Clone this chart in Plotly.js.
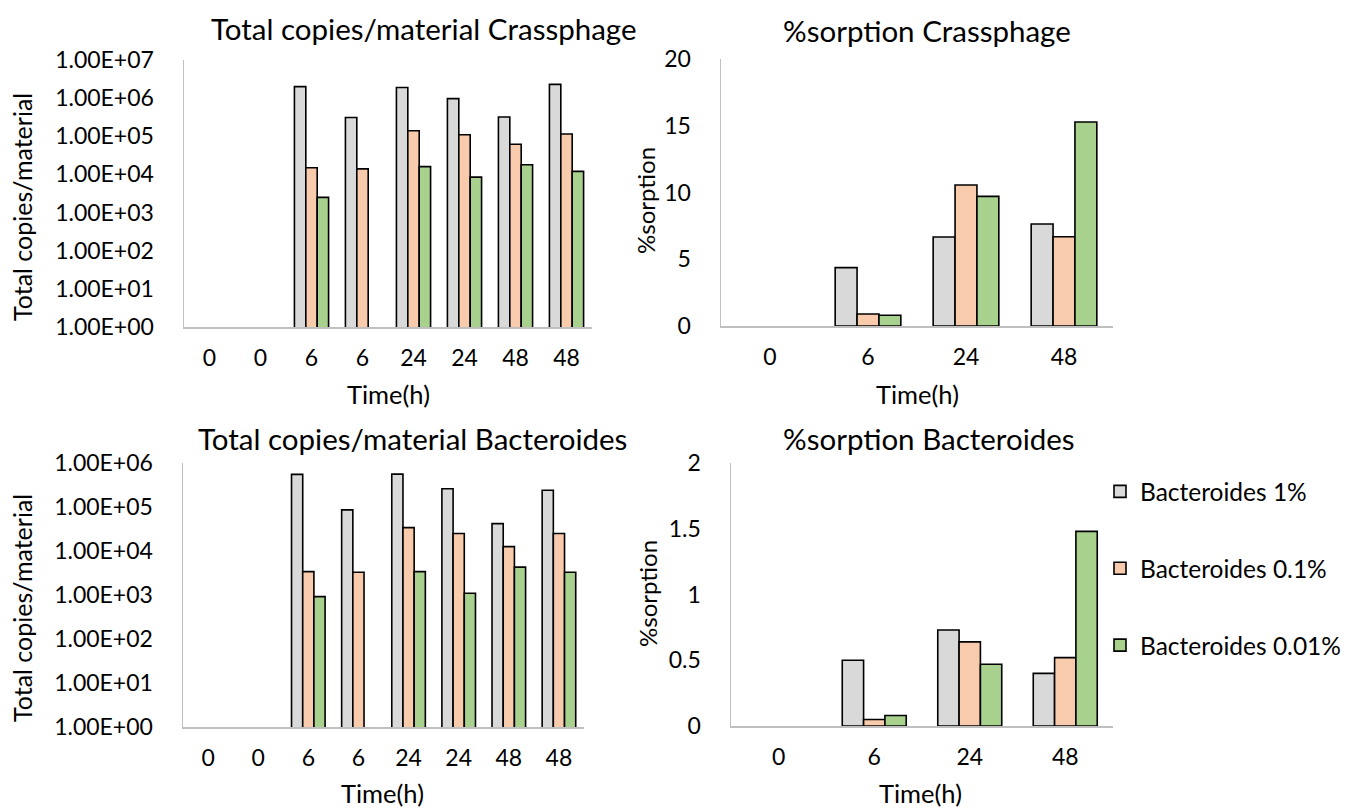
<!DOCTYPE html>
<html>
<head>
<meta charset="utf-8">
<script src="https://cdn.plot.ly/plotly-3.0.1.min.js"></script>
<style>
  html, body { margin: 0; padding: 0; background: #fff; }
  #chart { width: 1352px; height: 808px; }
</style>
</head>
<body>
<div id="chart"></div>
<script>
// Sampling times (h); the copy charts show each time point twice (replicates)
const copyTimes = ['0', '0', '6', '6', '24', '24', '48', '48'];
const sorptionTimes = ['0', '6', '24', '48'];
const seriesNames = ['Bacteroides 1%', 'Bacteroides 0.1%', 'Bacteroides 0.01%'];

// Total copies per material, crAssphage
const crassCopies1   = [null, null, 2.0e6, 3.1e5, 1.9e6, 9.7e5, 3.2e5, 2.3e6];
const crassCopies01  = [null, null, 1.5e4, 1.4e4, 1.4e5, 1.1e5, 6.2e4, 1.15e5];
const crassCopies001 = [null, null, 2.5e3, null, 1.6e4, 8.5e3, 1.8e4, 1.2e4];

// % sorption, crAssphage
const crassSorption1   = [null, 4.37, 6.67, 7.64];
const crassSorption01  = [null, 0.90, 10.56, 6.69];
const crassSorption001 = [null, 0.80, 9.71, 15.28];

// Total copies per material, Bacteroides
const bactCopies1   = [null, null, 5.5e5, 8.6e4, 5.6e5, 2.6e5, 4.2e4, 2.4e5];
const bactCopies01  = [null, null, 3.4e3, 3.3e3, 3.4e4, 2.5e4, 1.26e4, 2.5e4];
const bactCopies001 = [null, null, 9.2e2, null, 3.4e3, 1.1e3, 4.3e3, 3.3e3];

// % sorption, Bacteroides
const bactSorption1   = [null, 0.50, 0.73, 0.40];
const bactSorption01  = [null, 0.05, 0.64, 0.52];
const bactSorption001 = [null, 0.08, 0.47, 1.48];

// Log axis tick labels
const crassLogTicks = ['1.00E+00', '1.00E+01', '1.00E+02', '1.00E+03', '1.00E+04', '1.00E+05', '1.00E+06', '1.00E+07'];
const bactLogTicks  = ['1.00E+00', '1.00E+01', '1.00E+02', '1.00E+03', '1.00E+04', '1.00E+05', '1.00E+06'];

const fills = ['#D9D9D9', '#F8CBAD', '#A9D18E'];
const FONT = 'Lato, "Open Sans", sans-serif';
const TXT = '#000000';
const AXIS_GREY = '#BFBFBF';

const copyIdx = copyTimes.map((_, i) => i);

function barTraces(xs, seriesList, xa, ya, legend) {
  return seriesList.map((ys, k) => ({
    type: 'bar',
    x: xs,
    y: ys,
    name: seriesNames[k],
    xaxis: xa,
    yaxis: ya,
    legendgroup: 'g' + k,
    showlegend: legend,
    marker: { color: fills[k], line: { color: '#000000', width: 1.6 } },
    hoverinfo: 'x+y+name'
  }));
}

const data = [
  ...barTraces(copyIdx, [crassCopies1, crassCopies01, crassCopies001], 'x', 'y', false),
  ...barTraces(sorptionTimes, [crassSorption1, crassSorption01, crassSorption001], 'x2', 'y2', false),
  ...barTraces(copyIdx, [bactCopies1, bactCopies01, bactCopies001], 'x3', 'y3', false),
  ...barTraces(sorptionTimes, [bactSorption1, bactSorption01, bactSorption001], 'x4', 'y4', true)
];

const W = 1352, H = 808;
const px = v => v / W;
const py = v => 1 - v / H;

const tickFont = { family: FONT, size: 23, color: TXT };

function xCat(domain, anchor) {
  return {
    domain: domain, anchor: anchor,
    type: 'category',
    showline: true, linecolor: AXIS_GREY, linewidth: 1.5,
    showgrid: false, zeroline: false, ticks: '',
    tickfont: tickFont, ticklabelstandoff: 10,
    fixedrange: true
  };
}
function xIdx(domain, anchor) {
  return {
    domain: domain, anchor: anchor,
    type: 'linear', range: [-0.5, copyTimes.length - 0.5],
    tickmode: 'array', tickvals: copyIdx, ticktext: copyTimes,
    showline: true, linecolor: AXIS_GREY, linewidth: 1.5,
    showgrid: false, zeroline: false, ticks: '',
    tickfont: tickFont, ticklabelstandoff: 10,
    fixedrange: true
  };
}
function yLog(domain, anchor, labels) {
  return {
    domain: domain, anchor: anchor,
    type: 'log', range: [0, labels.length - 1],
    tickmode: 'array',
    tickvals: labels.map((_, i) => Math.pow(10, i)),
    ticktext: labels,
    showline: true, linecolor: AXIS_GREY, linewidth: 1.5,
    showgrid: false, zeroline: false, ticks: '',
    tickfont: tickFont, ticklabelstandoff: 24,
    fixedrange: true
  };
}
function yLin(domain, anchor, range, dtick) {
  return {
    domain: domain, anchor: anchor,
    type: 'linear', range: range, dtick: dtick,
    showline: true, linecolor: AXIS_GREY, linewidth: 1.5,
    showgrid: false, zeroline: false, ticks: '',
    tickfont: tickFont, ticklabelstandoff: 24,
    fixedrange: true
  };
}

function label(text, x, y, size, angle) {
  return {
    text: text, xref: 'paper', yref: 'paper',
    x: px(x), y: py(y), xanchor: 'center', yanchor: 'middle',
    showarrow: false, textangle: angle || 0,
    font: { family: FONT, size: size, color: TXT }
  };
}

const layout = {
  width: W, height: H,
  margin: { l: 0, r: 0, t: 0, b: 0 },
  paper_bgcolor: '#ffffff', plot_bgcolor: '#ffffff',
  barmode: 'group', bargap: 0.33, bargroupgap: 0,
  showlegend: true,
  legend: {
    x: px(1100), y: py(469), xanchor: 'left', yanchor: 'top',
    font: { family: FONT, size: 24.5, color: TXT },
    tracegroupgap: 42, itemwidth: 30,
    bgcolor: 'rgba(0,0,0,0)'
  },
  xaxis:  xIdx([px(184), px(592)], 'y'),
  yaxis:  yLog([py(327), py(60)], 'x', crassLogTicks),
  xaxis2: xCat([px(721), px(1113)], 'y2'),
  yaxis2: yLin([py(326), py(59)], 'x2', [0, 20], 5),
  xaxis3: xIdx([px(183), px(584)], 'y3'),
  yaxis3: yLog([py(727), py(463)], 'x3', bactLogTicks),
  xaxis4: xCat([px(731), px(1113)], 'y4'),
  yaxis4: yLin([py(726), py(463)], 'x4', [0, 2], 0.5),
  annotations: [
    label('Total copies/material Crassphage', 424, 28, 29.5),
    label('%sorption Crassphage', 927, 30, 29.5),
    label('Total copies/material Bacteroides', 413, 438, 29.5),
    label('%sorption Bacteroides', 929, 438, 29.5),
    label('Time(h)', 917, 394, 25.5),
    label('Time(h)', 388, 394, 25.5),
    label('Time(h)', 383, 793, 25.5),
    label('Time(h)', 921, 793, 25.5),
    label('Total copies/material', 22, 207, 25, -90),
    label('Total copies/material', 22, 608, 25, -90),
    label('%sorption', 645, 201, 24, -90),
    label('%sorption', 647, 594, 24, -90)
  ]
};

Plotly.newPlot('chart', data, layout, { displayModeBar: false, staticPlot: true });
</script>
</body>
</html>
